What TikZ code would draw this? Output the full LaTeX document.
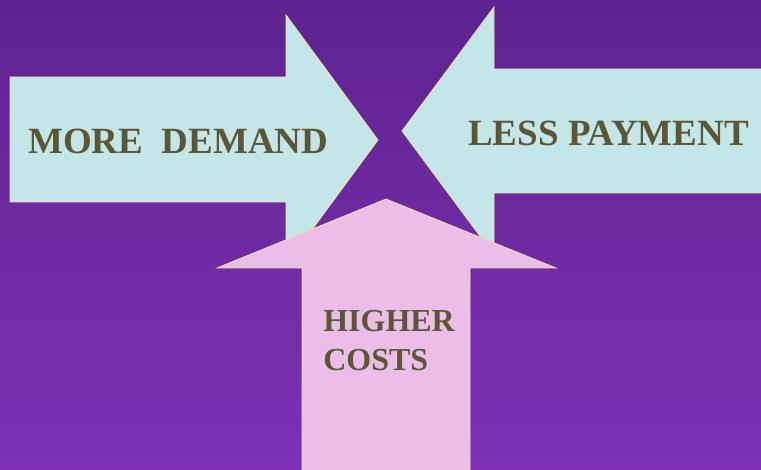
\documentclass[tikz,border=0pt]{standalone}
\usepackage{fontspec}
\setmainfont{Liberation Serif}
\definecolor{bgtop}{HTML}{5E2390}
\definecolor{bgbot}{HTML}{7E31B4}
\definecolor{arrowcyan}{HTML}{C4E6E8}
\definecolor{arrowpink}{HTML}{ECBDE8}
\definecolor{rimyellow}{HTML}{EEE2A4}
\definecolor{labelolive}{HTML}{5B5736}
\tikzset{
  bigarrow/.style={draw=rimyellow, line width=0.6pt, line join=miter},
  bigword/.style={text=labelolive, font=\bfseries\fontsize{27.75}{33}\selectfont, inner sep=0pt},
}
\begin{document}
\begin{tikzpicture}[x=0.75pt,y=0.75pt,yscale=-1,xscale=1]
\useasboundingbox (0,0) rectangle (761,470);
\clip (0,0) rectangle (761,470);

%Background
\shade [top color=bgtop, bottom color=bgbot] (0,0) rectangle (761,470);

%Shape: Right Arrow
\draw [bigarrow, fill=arrowcyan] (10,77) -- (286,77) -- (286,15) -- (378,140) -- (286,265) -- (286,202) -- (10,202) -- cycle ;
%Shape: Left Arrow
\draw [bigarrow, fill=arrowcyan] (770,69) -- (494,69) -- (494,7) -- (402,131) -- (494,255) -- (494,193) -- (770,193) -- cycle ;
%Shape: Up Arrow
\draw [bigarrow, fill=arrowpink] (302,480) -- (302,268) -- (217,268) -- (386,199) -- (556,268) -- (470,268) -- (470,480) -- cycle ;

% Text Node
\node [bigword, anchor=base west] (demand) at (28,154) {MORE\ \ DEMAND};
% Text Node
\node [bigword, anchor=base west] (payment) at (468,146) {LESS PAYMENT};
% Text Node
\node [bigword, anchor=base west, align=left, font=\bfseries\fontsize{24}{29.25}\selectfont] (costs) at (323,371) {HIGHER\\COSTS};

\end{tikzpicture}
\end{document}
